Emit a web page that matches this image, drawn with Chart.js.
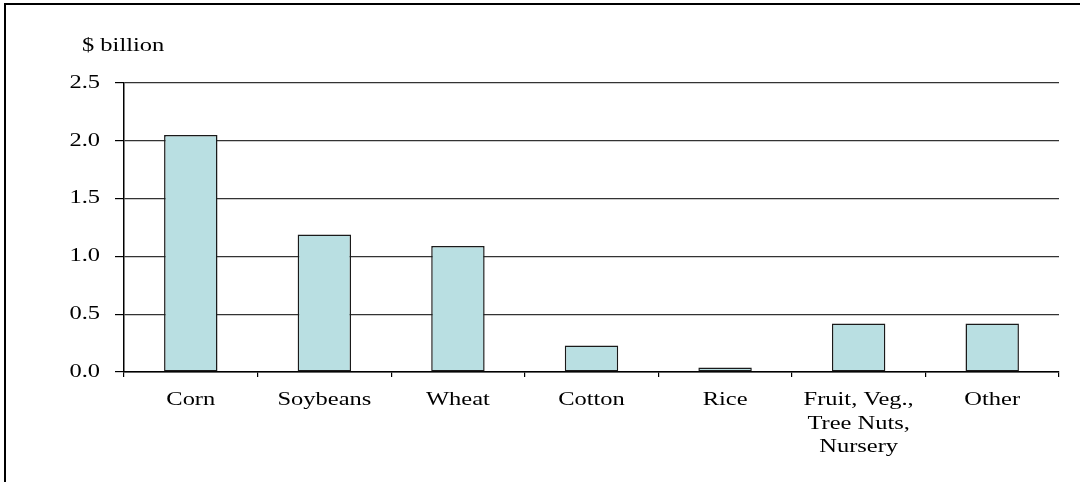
<!DOCTYPE html>
<html>
<head>
<meta charset="utf-8">
<script src="https://cdn.jsdelivr.net/npm/chart.js@4/dist/chart.umd.min.js"></script>
<style>
	html, body { margin: 0; padding: 0; background: #fff; overflow: hidden; }
	#wrap { position: relative; width: 1080px; height: 482px; }
	#chart { position: absolute; left: 0; top: 0; }
	#frame { position: absolute; left: 4px; top: 3px; width: 1100px; height: 500px;
		border-top: 2px solid #000; border-left: 2px solid #000; pointer-events: none; }
</style>
</head>
<body>
<div id="wrap">
	<canvas id="chart" width="1080" height="482"></canvas>
	<div id="frame"></div>
</div>
<script>
const categories = ['Corn', 'Soybeans', 'Wheat', 'Cotton', 'Rice', ['Fruit, Veg.,', 'Tree Nuts,', 'Nursery'], 'Other'];
const values = [2.05, 1.19, 1.09, 0.23, 0.04, 0.42, 0.42];
const yTicks = [0, 0.5, 1.0, 1.5, 2.0, 2.5];
const unitLabel = '$ billion';

const font = { family: '"Liberation Serif", "Times New Roman", serif', size: 18 };
const stretch = 1.36;

// the reference text is horizontally stretched, so widen every glyph around its anchor
const wideText = {
	id: 'wideText',
	beforeDraw: chart => {
		const ctx = chart.ctx;
		if (ctx._wide) return;
		const orig = ctx.fillText.bind(ctx);
		ctx.fillText = (text, x, y) => {
			ctx.save();
			ctx.translate(x, y);
			ctx.scale(stretch, 1);
			orig(text, 0, 0);
			ctx.restore();
		};
		ctx._wide = true;
	},
	afterDraw: chart => {
		const ctx = chart.ctx;
		ctx.save();
		ctx.font = `${font.size}px ${font.family}`;
		ctx.fillStyle = '#000';
		ctx.textAlign = 'left';
		ctx.textBaseline = 'alphabetic';
		ctx.fillText(unitLabel, 82, 51);
		ctx.restore();
	}
};

const config = {
	type: 'bar',
	data: {
		labels: categories,
		datasets: [{
			data: values,
			backgroundColor: '#b9dfe2',
			borderColor: '#1a1a1a',
			borderWidth: 1.5,
			borderSkipped: false,
			barPercentage: 0.4,
			categoryPercentage: 1.0
		}]
	},
	options: {
		responsive: false,
		animation: false,
		layout: { padding: { top: 83, right: 21, left: 0, bottom: 0 } },
		plugins: {
			legend: { display: false },
			tooltip: { enabled: false }
		},
		scales: {
			x: {
				afterFit: scale => { scale.height = 110; },
				grid: {
					offset: true,
					color: ctx => ctx.index === categories.length ? '#000' : 'rgba(0,0,0,0)',
					tickColor: '#000',
					tickLength: 5,
					lineWidth: 1.2
				},
				border: { display: true, color: '#000', width: 1.5 },
				ticks: {
					color: '#000',
					font: { ...font, lineHeight: 1.3 },
					padding: 12,
					maxRotation: 0,
					autoSkip: false
				}
			},
			y: {
				min: 0,
				max: 2.5,
				afterFit: scale => { scale.width = 124; },
				afterBuildTicks: scale => { scale.ticks = yTicks.map(v => ({ value: v })); },
				grid: {
					color: '#333',
					tickColor: '#000',
					tickLength: 9,
					lineWidth: 1.2
				},
				border: { display: true, color: '#000', width: 1.5 },
				ticks: {
					color: '#000',
					font: font,
					padding: 15,
					callback: v => v.toFixed(1)
				}
			}
		}
	},
	plugins: [wideText]
};

new Chart(document.getElementById('chart'), config);
</script>
</body>
</html>
